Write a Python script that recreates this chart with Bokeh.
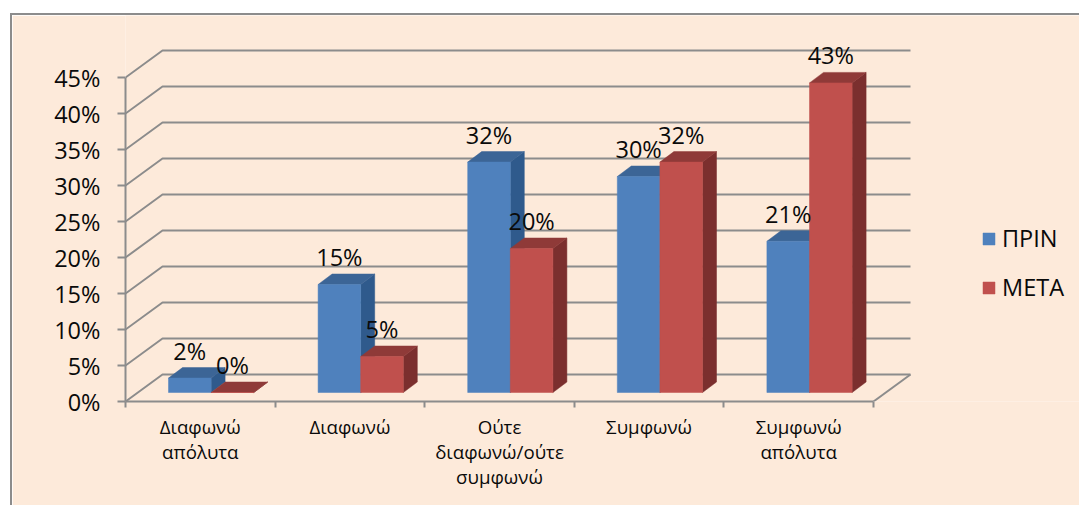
from bokeh.plotting import figure
from bokeh.embed import file_html
from bokeh.resources import INLINE
from bokeh.models import Range1d, FixedTicker, PrintfTickFormatter, Legend, LegendItem
from bokeh.core.properties import value

categories = ["Διαφωνώ\nαπόλυτα", "Διαφωνώ", "Ούτε\nδιαφωνώ/ούτε\nσυμφωνώ", "Συμφωνώ", "Συμφωνώ\nαπόλυτα"]
before = [2, 15, 32, 30, 21]
after = [0, 5, 20, 32, 43]
y_ticks = [0, 5, 10, 15, 20, 25, 30, 35, 40, 45]
series_names = ["ΠΡΙΝ", "ΜΕΤΑ"]

FONT = "Open Sans"
PANEL = "#FDEADA"
GRID = "#8C8C8C"
TEXT = "#0A0A0A"

X0, Y0 = 125, 401           # page pixels of the front-axis origin
CAT_PX, PCT_PX = 149.6, 7.2  # pixels per category / per percent
PANEL_X, PANEL_Y = 10, 13    # page pixels of the panel's corner
BORDER = 2
FIG_W, FIG_H = 1081 - PANEL_X - BORDER, 507 - PANEL_Y - BORDER

p = figure(width=FIG_W, height=FIG_H, output_backend="svg", toolbar_location=None,
           x_range=Range1d(-0.5, -0.5 + (1081 - X0) / CAT_PX),
           y_range=Range1d(0, (Y0 - PANEL_Y - BORDER) / PCT_PX),
           min_border_left=X0 - PANEL_X - BORDER, min_border_right=0, min_border_top=0,
           min_border_bottom=507 - Y0,
           background_fill_color=PANEL, border_fill_color=PANEL, outline_line_color=None,
           margin=(PANEL_Y, 0, 0, PANEL_X),
           styles={"border-left": f"{BORDER}px solid {GRID}", "border-top": f"{BORDER}px solid {GRID}"})
p.grid.visible = False

# 3-D wall offsets in data units
WALL_DX, WALL_DY = 37 / CAT_PX, 27 / PCT_PX
DEPTH_DX, DEPTH_DY = 14 / CAT_PX, 10.5 / PCT_PX
BAR_W = 42.6 / CAT_PX
BAR_LEFT = 43 / CAT_PX - 0.5
BASE = 9 / PCT_PX

# wall gridlines
xl, xr = -0.5, len(categories) - 0.5
gx, gy = [], []
for t in y_ticks:
    gx.append([xl, xl + WALL_DX, xr + WALL_DX])
    gy.append([t, t + WALL_DY, t + WALL_DY])
gx.append([xr, xr + WALL_DX])
gy.append([0, WALL_DY])
p.multi_line(gx, gy, line_color=GRID, line_width=2)

def bars(vals, slot, front, top, side):
    tx, ty, sx, sy, lefts, rights, tops, bottoms = [], [], [], [], [], [], [], []
    for i, v in enumerate(vals):
        l = i + BAR_LEFT + slot * BAR_W
        r = l + BAR_W
        t = v + BASE
        lefts.append(l); rights.append(r); tops.append(t); bottoms.append(BASE)
        tx.append([l, l + DEPTH_DX, r + DEPTH_DX, r]); ty.append([t, t + DEPTH_DY, t + DEPTH_DY, t])
        sx.append([r, r + DEPTH_DX, r + DEPTH_DX, r]); sy.append([BASE, BASE + DEPTH_DY, t + DEPTH_DY, t])
    p.patches(sx, sy, fill_color=side, line_color=side, line_width=0.5)
    p.patches(tx, ty, fill_color=top, line_color=top, line_width=0.5)
    return p.quad(left=lefts, right=rights, top=tops, bottom=bottoms, fill_color=front,
                  line_color=front, line_width=0.5)

r1 = bars(before, 0, "#4F81BD", "#3C6596", "#2F5A8C")
r2 = bars(after, 1, "#C0504D", "#8F3A38", "#7B2F2E")

# data labels
LABEL_UP = 27.5 / PCT_PX
for slot, vals in enumerate([before, after]):
    p.text(x=[i + BAR_LEFT + (slot + 0.5) * BAR_W for i in range(len(vals))],
           y=[v + BASE + LABEL_UP for v in vals],
           text=[f"{v}%" for v in vals], text_align="center", text_baseline="middle",
           text_font=value(FONT), text_font_size="23.5px", text_color=TEXT)

# axes
ya = p.yaxis[0]
ya.ticker = FixedTicker(ticks=y_ticks)
ya.formatter = PrintfTickFormatter(format="%d%%")
ya.bounds = (0, 45)
ya.axis_line_color = GRID; ya.axis_line_width = 2
ya.major_tick_line_color = GRID; ya.major_tick_line_width = 2
ya.major_tick_in = 0; ya.major_tick_out = 8
ya.minor_tick_line_color = None
ya.major_label_standoff = 17
ya.major_label_text_font = FONT; ya.major_label_text_font_size = "23.5px"
ya.major_label_text_color = TEXT

xa = p.xaxis[0]
xa.ticker = FixedTicker(ticks=list(range(len(categories))),
                        minor_ticks=[i - 0.5 for i in range(len(categories) + 1)])
xa.major_label_overrides = {i: c for i, c in enumerate(categories)}
xa.bounds = (xl, xr)
xa.axis_line_color = GRID; xa.axis_line_width = 2
xa.major_tick_line_color = None
xa.minor_tick_line_color = GRID; xa.minor_tick_line_width = 2
xa.minor_tick_in = 0; xa.minor_tick_out = 6
xa.major_label_standoff = 6
xa.major_label_text_font = FONT; xa.major_label_text_font_size = "18.7px"
xa.major_label_text_color = TEXT
xa.major_label_text_line_height = 1.0

legend = Legend(items=[LegendItem(label=series_names[0], renderers=[r1]),
                       LegendItem(label=series_names[1], renderers=[r2])],
                location=(856, 98), orientation="vertical", border_line_color=None,
                background_fill_color=None, padding=0, margin=0, spacing=17,
                glyph_width=15, glyph_height=15, label_standoff=6,
                label_text_font=FONT, label_text_font_size="23.5px", label_text_color=TEXT)
p.add_layout(legend)

open("out.html", "w").write(file_html(p, INLINE))
